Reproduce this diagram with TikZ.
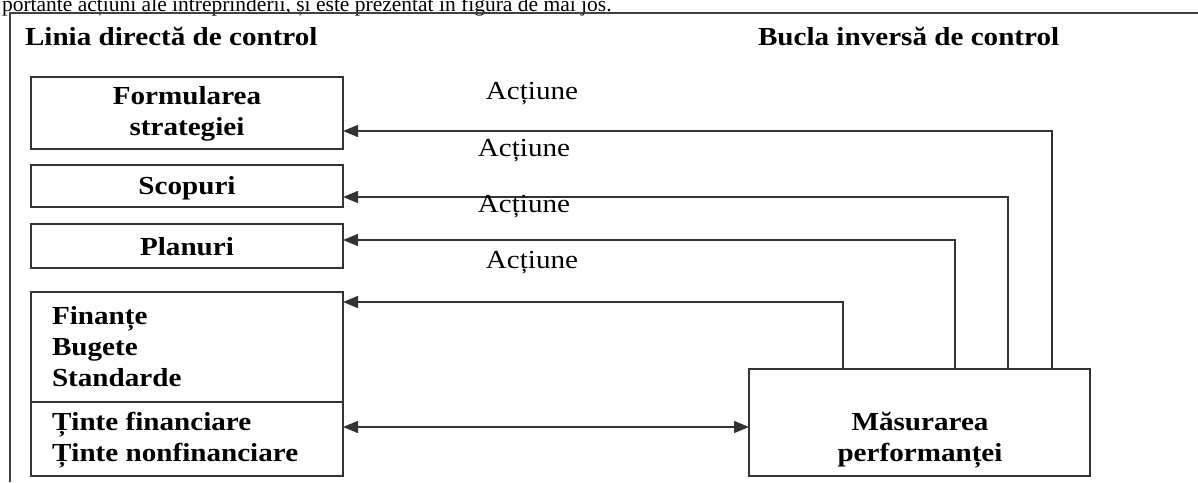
\documentclass[tikz,border=0pt]{standalone}
\usepackage{fontspec}
\setmainfont{Liberation Serif}
\newfontfamily\tnr[FakeStretch=1.12]{Liberation Serif}
\usetikzlibrary{arrows.meta}
\tikzset{
  every node/.style={inner sep=0pt, outer sep=0pt},
  boxn/.style={draw=black!80, line width=1.5pt, minimum width=312pt},
  bt/.style={font=\tnr\fontsize{26}{31}\selectfont\bfseries, align=center},
  lt/.style={font=\tnr\fontsize{26}{31}\selectfont},
  frame/.style={draw=black!75, line width=2pt},
  conn/.style={draw=black!80, line width=1.4pt},
  tip/.tip={Triangle[length=15pt,width=12pt]},
  arr/.style={conn, -tip},
  arr2/.style={conn, tip-tip},
}
\begin{document}
\begin{tikzpicture}[x=1pt,y=-1pt]
\useasboundingbox (0,0) rectangle (1198,482);
\begin{scope}
\clip (0,0) rectangle (1198,482);
\node[anchor=base west, font=\fontsize{21.5}{24}\selectfont] (toptxt) at (2,11) {portante acțiuni ale întreprinderii, și este prezentat în figura de mai jos.};
\end{scope}
\draw[frame] (10,482) -- (10,13) -- (1198,13);
\node[bt, anchor=base west] (t1) at (25,45) {Linia directă de control};
\node[bt, anchor=base west] (t2) at (758,45) {Bucla inversă de control};
% boxes
\node[boxn, minimum height=72pt] (strat) at (187,113) {};
\node[bt] (stratT) at (187,114) {Formularea\\strategiei};
\node[boxn, minimum height=42pt] (scop) at (187,186) {};
\node[bt] (scopT) at (187,188) {Scopuri};
\node[boxn, minimum height=44pt] (plan) at (187,246) {};
\node[bt] (planT) at (187,247) {Planuri};
\node[boxn, minimum height=110pt] (fin) at (187,347) {};
\node[bt, anchor=west, align=left] (finT) at (52,347) {Finanțe\\Bugete\\Standarde};
\node[boxn, minimum height=74pt] (tin) at (187,439) {};
\node[bt, anchor=west, align=left] (tinT) at (52,440) {Ținte financiare\\Ținte nonfinanciare};
\node[boxn, minimum width=341pt, minimum height=107pt] (mas) at (919.5,422.5) {};
\node[bt] (masT) at (920,440) {Măsurarea\\performanței};
% connectors
\coordinate (c1) at (1052,131);
\coordinate (c2) at (1008,197);
\coordinate (c3) at (955,240);
\coordinate (c4) at (843,302);
\coordinate (c5) at (600,427);
\draw[arr] (mas.north -| c1) |- (strat.east |- c1);
\draw[arr] (mas.north -| c2) |- (scop.east |- c2);
\draw[arr] (mas.north -| c3) |- (plan.east |- c3);
\draw[arr] (mas.north -| c4) |- (fin.east |- c4);
\draw[arr2] (tin.east |- c5) -- (mas.west |- c5);
% labels
\node[lt] (a1) at (532,94) {Acțiune};
\node[lt] (a2) at (524,151) {Acțiune};
\node[lt] (a3) at (524,207) {Acțiune};
\node[lt] (a4) at (532,263) {Acțiune};
\end{tikzpicture}
\end{document}
